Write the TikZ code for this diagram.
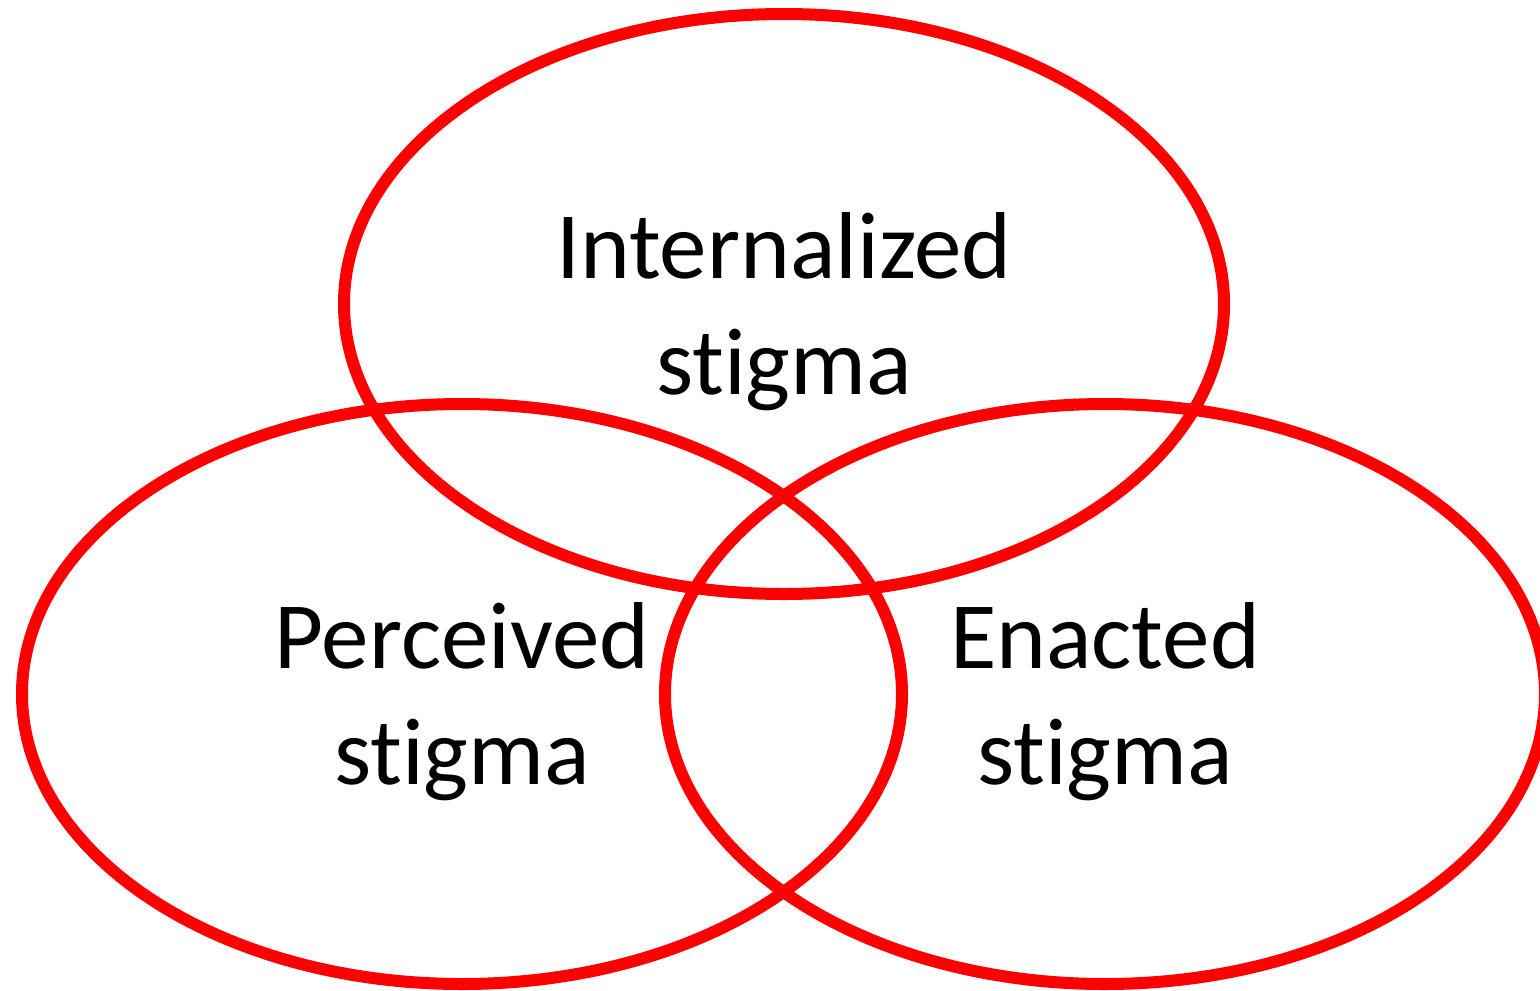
\documentclass[tikz,border=0pt]{standalone}
\usepackage{fontspec}
\setmainfont{Carlito}[Ligatures=NoCommon]
\usetikzlibrary{shapes.geometric}
\definecolor{ringred}{RGB}{255,0,0}
\begin{document}
\begin{tikzpicture}[x=0.5pt, y=-0.5pt,
    stigmaset/.style={ellipse, draw=ringred, line width=6pt, minimum width=440pt, minimum height=290pt, inner sep=0pt},
    stigmatext/.style={align=center, inner sep=0pt, font=\fontsize{47.5}{58}\selectfont}]
    \useasboundingbox (0,0) rectangle (1540,990);

    % Drei Ellipsen
    \node[stigmaset] (internalized) at (784,304) {};
    \node[stigmaset] (perceived) at (462,694) {};
    \node[stigmaset] (enacted) at (1105,694) {};

    % Beschriftung
    \node[stigmatext] (internalizedtext) at ([yshift=-4pt]internalized.center) {Internalized\\stigma};
    \node[stigmatext] (perceivedtext) at ([yshift=-4pt]perceived.center) {Perceived\\stigma};
    \node[stigmatext] (enactedtext) at ([yshift=-4pt]enacted.center) {Enacted\\stigma};
\end{tikzpicture}
\end{document}
